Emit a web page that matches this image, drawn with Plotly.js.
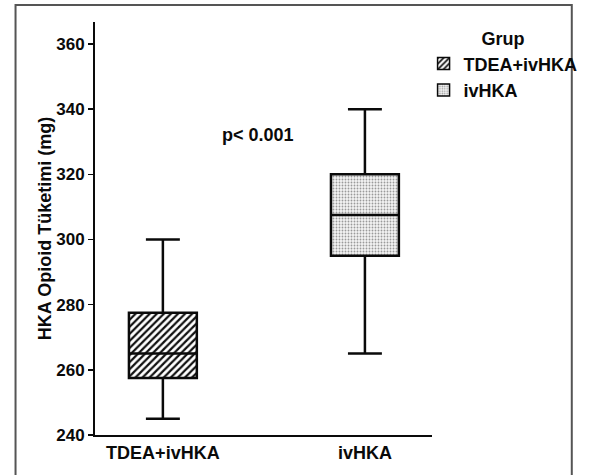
<!DOCTYPE html>
<html>
<head>
<meta charset="utf-8">
<script src="https://cdn.plot.ly/plotly-3.0.1.min.js"></script>
<style>html,body{margin:0;padding:0;background:#fff;}#chart{width:595px;height:475px;}</style>
</head>
<body>
<div id="chart"></div>
<script>
// Data
const groups = ["TDEA+ivHKA", "ivHKA"];
const lowerWhisker = [245, 265];
const q1 = [257.5, 295];
const median = [265, 307.5];
const q3 = [277.5, 320];
const upperWhisker = [300, 340];
const yTicks = [240, 260, 280, 300, 320, 340, 360];
const legendTitle = "Grup";
const yTitle = "HKA Opioid Tüketimi (mg)";
const pText = "p< 0.001";

const FONT = "Liberation Sans, Arial, sans-serif";
const INK = "#0a0a0a";
const patterns = [
  {shape: "/", fgcolor: "#111111", bgcolor: "#ffffff", size: 5, solidity: 0.45},
  {shape: ".", fgcolor: "#9a9a9a", bgcolor: "#f4f4f4", size: 3, solidity: 0.3}
];
const BOXW = 0.336;

const traces = [];
groups.forEach((g, i) => {
  traces.push({
    type: "bar",
    name: g,
    x: [g],
    y: [q3[i] - q1[i]],
    base: [q1[i]],
    width: BOXW,
    marker: {color: "#ffffff", pattern: patterns[i], line: {width: 1.5, color: INK}},
    hoverinfo: "skip",
    showlegend: true
  });
});
groups.forEach((g, i) => {
  traces.push({
    type: "box",
    name: g,
    x: [g],
    q1: [q1[i]],
    median: [median[i]],
    q3: [q3[i]],
    lowerfence: [lowerWhisker[i]],
    upperfence: [upperWhisker[i]],
    width: BOXW,
    whiskerwidth: 0.5,
    fillcolor: "rgba(0,0,0,0)",
    line: {color: INK, width: 2.5},
    showlegend: false,
    hoverinfo: "skip"
  });
});

const layout = {
  width: 595,
  height: 475,
  margin: {l: 95, r: 148, t: 22, b: 40},
  paper_bgcolor: "#ffffff",
  plot_bgcolor: "#ffffff",
  font: {family: FONT, color: INK, weight: 700},
  barmode: "overlay",
  boxmode: "overlay",
  xaxis: {
    type: "category",
    range: [-0.336, 1.332],
    showgrid: false,
    zeroline: false,
    showline: true,
    linecolor: INK,
    linewidth: 2,
    ticks: "",
    tickfont: {size: 18, family: FONT, weight: 700, color: INK},
    fixedrange: true
  },
  yaxis: {
    range: [240, 366.75],
    tickvals: yTicks,
    ticktext: yTicks.map(String),
    showgrid: false,
    zeroline: false,
    showline: true,
    linecolor: INK,
    linewidth: 2,
    ticks: "outside",
    ticklen: 5,
    tickwidth: 1.5,
    tickcolor: INK,
    tickfont: {size: 17, family: FONT, weight: 700, color: INK},
    title: {text: yTitle, font: {size: 18, family: FONT, weight: 700, color: INK}, standoff: 0},
    fixedrange: true
  },
  legend: {
    x: 0.975, xanchor: "left",
    y: 1.0, yanchor: "top",
    title: {text: legendTitle, side: "top center", font: {size: 18, family: FONT, weight: 700, color: INK}},
    font: {size: 18, family: FONT, weight: 700, color: INK},
    bgcolor: "rgba(0,0,0,0)",
    borderwidth: 0,
    itemwidth: 30,
    tracegroupgap: 0
  },
  annotations: [{
    text: pText, xref: "paper", yref: "paper", x: 0.483, y: 0.726,
    xanchor: "center", yanchor: "middle", showarrow: false,
    font: {size: 18, family: FONT, weight: 700, color: INK}
  }],
  shapes: [{
    type: "rect", xref: "paper", yref: "paper",
    x0: -0.2358, x1: 1.4148, y0: -0.2, y1: 1.0412,
    line: {color: "#555555", width: 2}, fillcolor: "rgba(0,0,0,0)", layer: "below"
  }]
};

Plotly.newPlot("chart", traces, layout, {displayModeBar: false, staticPlot: true});
</script>
</body>
</html>
